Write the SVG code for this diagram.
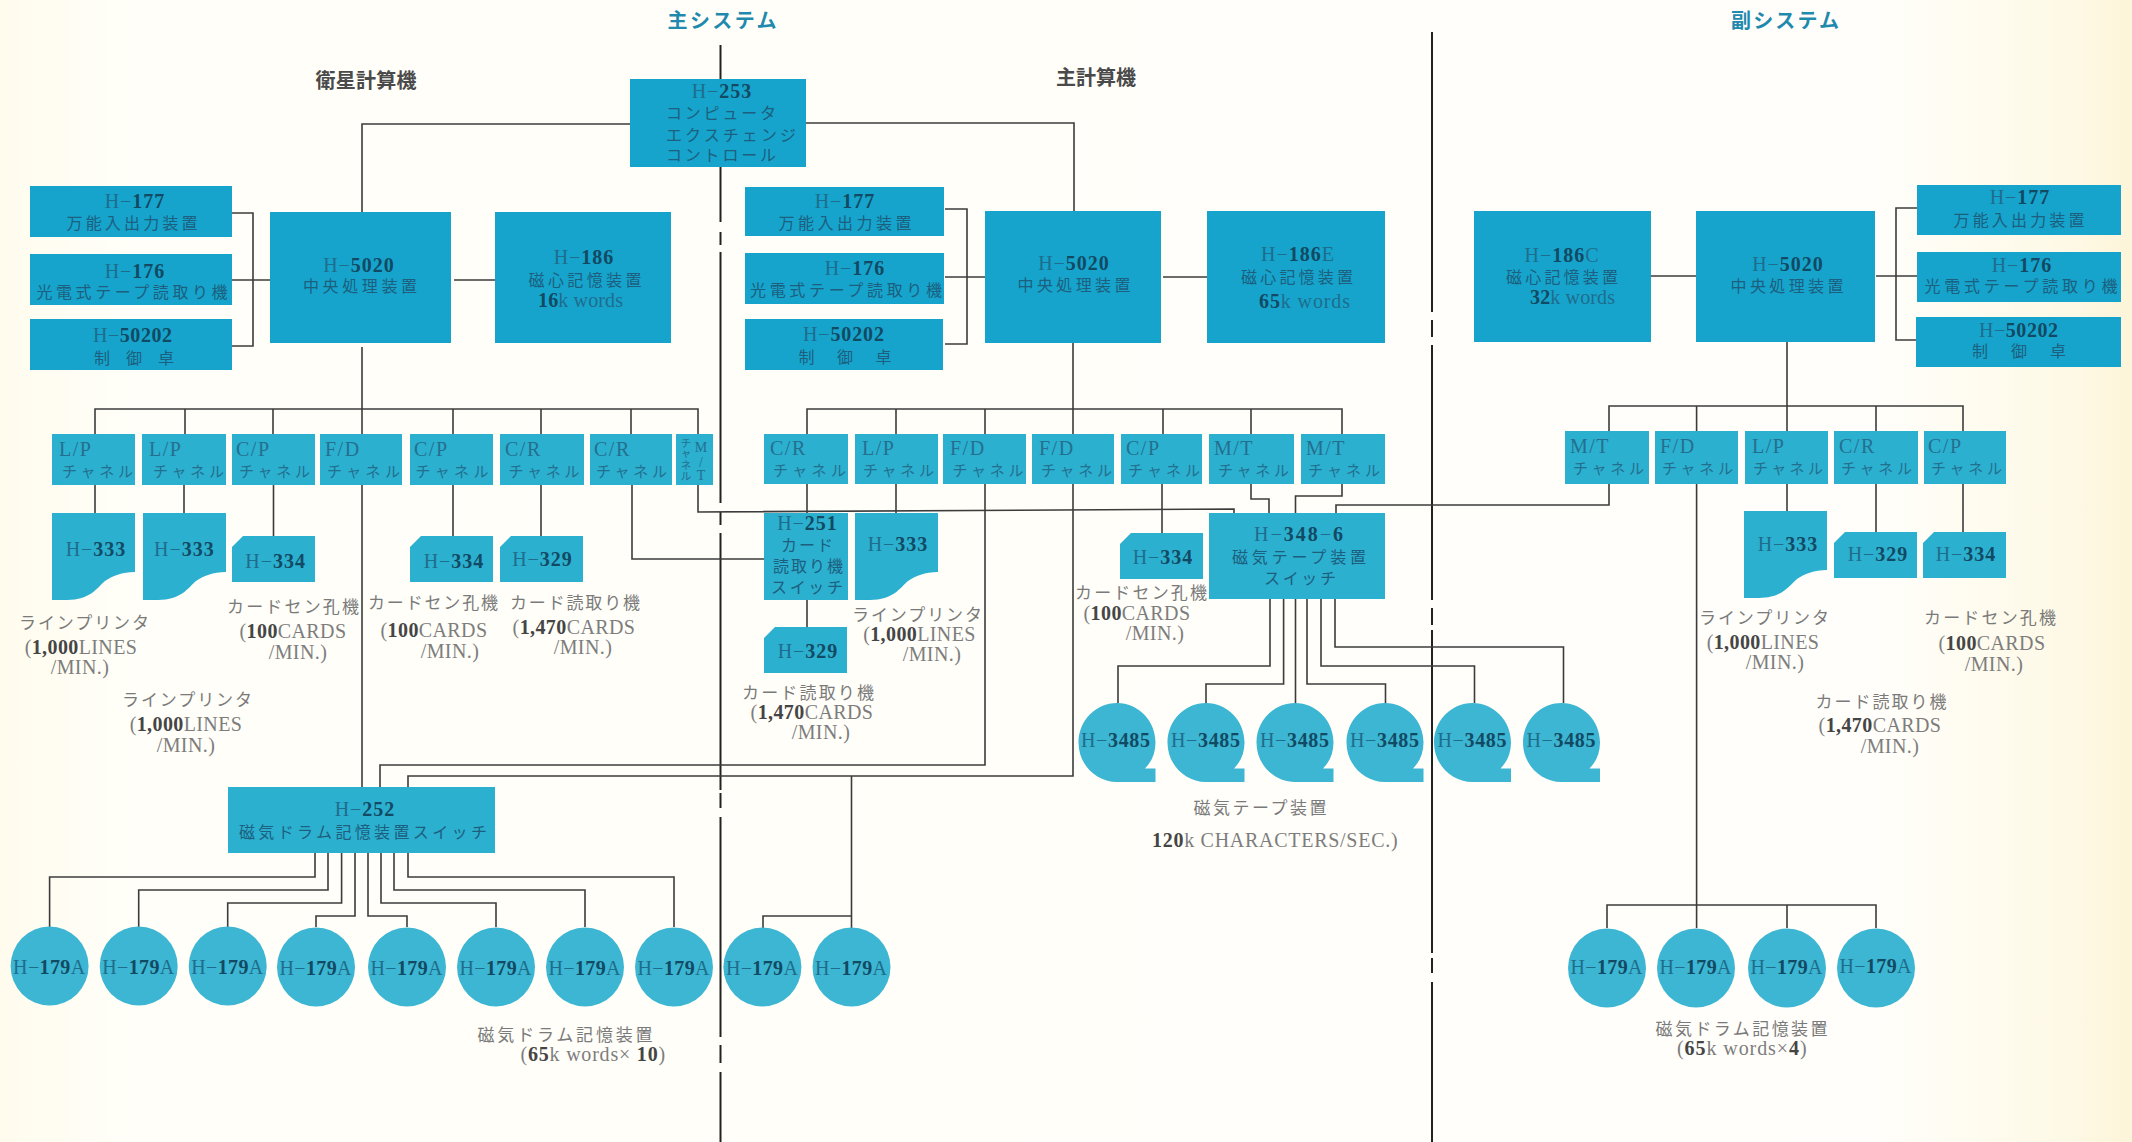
<svg xmlns="http://www.w3.org/2000/svg" width="2132" height="1142" viewBox="0 0 2132 1142">
<style>
text{font-family:"Liberation Serif","Noto Sans CJK JP",serif;text-anchor:middle}
.t{font-size:20px;fill:#1f6d8c;letter-spacing:1px}
.t tspan,.d tspan{font-weight:700;fill:#124a64}
.j{font-size:16px;fill:#1c5f7e}
.ch{font-size:15px;fill:#236f8e}
.lb{font-size:20px;fill:#256f8e;text-anchor:start;letter-spacing:1.500px}
.d{font-size:20px;fill:#7d7d7d;letter-spacing:.4px}
.d tspan{fill:#454545}
.dj{font-size:17px;fill:#7a7a7a}
.h{font-size:20px;font-weight:700;fill:#4a4a4a}
.s{font-size:20px;font-weight:700;fill:#1f89ae}
.a{fill:#16a4cc}
.b{fill:#2cb0d0}
.c{fill:#3cb6d2}
.l{fill:none;stroke:#3c3c3c;stroke-width:1.6}
.v{fill:none;stroke:#222;stroke-width:2}
</style>
<defs>
<linearGradient id="bg" x1="0" x2="1" y1="0" y2="0">
<stop offset="0" stop-color="#fffcee"/><stop offset="0.06" stop-color="#fffef8"/><stop offset="0.88" stop-color="#fffefa"/><stop offset="0.97" stop-color="#fef9e6"/><stop offset="1" stop-color="#fdf5d9"/>
</linearGradient>
<path id="lp" d="M0,0H83V59C70,59 60,63 53,68C45,75 38,87 15,87H0Z"/>
<path id="cd" d="M0,11L11,0H83V46H0Z"/>
<ellipse id="drum" cx="0" cy="0" rx="39" ry="39.5"/>
<path id="reel" d="M0,-39.5C21,-39.5 38.5,-22 38.5,0C38.5,10 35,19 28,26H38.5V39.5H0C-21,39.5 -38.5,22 -38.5,0C-38.5,-22 -21,-39.5 0,-39.5Z"/>
</defs>
<rect width="2132" height="1142" fill="url(#bg)"/>

<g id="connectors">
<path class="v" d="M720.5,45V222M720.5,232V245M720.5,252V503M720.5,512V525M720.5,533V790M720.5,793V808M720.5,817V1037M720.5,1045V1063M720.5,1072V1142"/>
<path class="v" d="M1432,32V312M1432,320V337M1432,345V600M1432,608V625M1432,630V953M1432,958V973M1432,982V1142"/>
<path class="l" d="M630,124H362V212M806,123H1074V211"/>
<path class="l" d="M232,213H253V346H232M232,280H272M454,280H496M362,347V434M95,434V409H698V434M185,409V434M273,409V434M453,409V434M541,409V434M631,409V434"/>
<path class="l" d="M95,485V513M184,485V513M273.500,485V536M453,485V536M541,485V536M632,485V559H764M698,485V512L1234,509V513"/>
<path class="l" d="M945,209H967V344H945M945,277H987M1163,277H1207M1073,343V434M807,434V409H1342V434M896,409V434M985,409V434M1163,409V434M1251,409V434"/>
<path class="l" d="M807,484V513M896,484V513M1162,484V533M1251,484V499H1269V513M1342,484V496H1295.500V513M807,600V627"/>
<path class="l" d="M1270,599V666H1118V703M1283.600,599V684H1206V703M1295.500,599V703M1307,599V684H1385.500V703M1321,599V666H1474.500V703M1335,599V647H1563.500V703"/>
<path class="l" d="M1336,513V505H1609V484"/>
<path class="l" d="M362,485V787M380,787V765H985V484M408,787V776H1073V484M851.500,776V928M763,928V916H851.500"/>
<path class="l" d="M315,853V877H49.600V927M328,853V890H138.700V927M341.600,853V903H227.700V927M355,853V916H316V927M368,853V916H407V927M381,853V903H496V927M394,853V890H585V927M408,853V877H674V927"/>
<path class="l" d="M1651,276H1696M1876,276H1917M1917,208H1896V340H1917M1787,342V431M1609,431V406H1963V431M1696.600,406V431M1876,406V431"/>
<path class="l" d="M1787,484V511M1876,484V533M1963,484V533M1696.600,484V928M1607,928V905H1876V928M1787,905V928"/>
</g>

<g id="title-main"><text class="s" x="722" y="28" textLength="109">主システム</text></g>
<g id="title-sub"><text class="s" x="1785" y="28" textLength="108">副システム</text></g>
<g id="title-sat"><text class="h" x="366" y="88" textLength="101">衛星計算機</text></g>
<g id="title-maincalc"><text class="h" x="1096" y="85" textLength="80">主計算機</text></g>

<g id="h253"><rect class="a" x="630" y="79" width="176" height="88"/>
<text class="t" x="722" y="98">H−<tspan>253</tspan></text>
<text class="j" x="721" y="119" textLength="110">コンピュータ</text>
<text class="j" x="731" y="141" textLength="130">エクスチェンジ</text>
<text class="j" x="721" y="161" textLength="110">コントロール</text></g>

<g id="sat-h177"><rect class="a" x="30" y="186" width="202" height="51"/>
<text class="t" x="135" y="208">H−<tspan>177</tspan></text><text class="j" x="132" y="229" textLength="131">万能入出力装置</text></g>
<g id="sat-h176"><rect class="a" x="30" y="254" width="202" height="51"/>
<text class="t" x="135" y="278">H−<tspan>176</tspan></text><text class="j" x="132" y="298" textLength="191">光電式テープ読取り機</text></g>
<g id="sat-h50202"><rect class="a" x="30" y="319" width="202" height="51"/>
<text class="t" x="133" y="342" textLength="80">H−<tspan>50202</tspan></text><text class="j" x="134" y="364" textLength="80">制 御 卓</text></g>
<g id="sat-h5020"><rect class="a" x="270" y="212" width="181" height="131"/>
<text class="t" x="359" y="272">H−<tspan>5020</tspan></text><text class="j" x="360" y="292" textLength="114">中央処理装置</text></g>
<g id="sat-h186"><rect class="a" x="495" y="212" width="176" height="131"/>
<text class="t" x="584" y="264">H−<tspan>186</tspan></text><text class="j" x="585" y="286" textLength="113">磁心記憶装置</text>
<text class="t" x="581" y="307" textLength="86"><tspan>16</tspan>k words</text></g>

<g id="main-h177"><rect class="a" x="745" y="187" width="199" height="49"/>
<text class="t" x="845" y="208">H−<tspan>177</tspan></text><text class="j" x="845" y="229" textLength="133">万能入出力装置</text></g>
<g id="main-h176"><rect class="a" x="745" y="253" width="199" height="51"/>
<text class="t" x="855" y="275">H−<tspan>176</tspan></text><text class="j" x="846" y="296" textLength="192">光電式テープ読取り機</text></g>
<g id="main-h50202"><rect class="a" x="745" y="319" width="198" height="51"/>
<text class="t" x="844" y="341" textLength="82">H−<tspan>50202</tspan></text><text class="j" x="845" y="363" textLength="93">制 御 卓</text></g>
<g id="main-h5020"><rect class="a" x="985" y="211" width="176" height="132"/>
<text class="t" x="1074" y="270">H−<tspan>5020</tspan></text><text class="j" x="1074" y="291" textLength="113">中央処理装置</text></g>
<g id="main-h186e"><rect class="a" x="1207" y="211" width="178" height="132"/>
<text class="t" x="1298" y="261">H−<tspan>186</tspan>E</text><text class="j" x="1297" y="283" textLength="112">磁心記憶装置</text>
<text class="t" x="1305" y="308" textLength="92"><tspan>65</tspan>k words</text></g>

<g id="sub-h186c"><rect class="a" x="1474" y="211" width="177" height="131"/>
<text class="t" x="1562" y="262">H−<tspan>186</tspan>C</text><text class="j" x="1562" y="283" textLength="112">磁心記憶装置</text>
<text class="t" x="1573" y="304" textLength="86"><tspan>32</tspan>k words</text></g>
<g id="sub-h5020"><rect class="a" x="1696" y="211" width="179" height="131"/>
<text class="t" x="1788" y="271">H−<tspan>5020</tspan></text><text class="j" x="1787" y="292" textLength="113">中央処理装置</text></g>
<g id="sub-h177"><rect class="a" x="1917" y="185" width="204" height="50"/>
<text class="t" x="2020" y="204">H−<tspan>177</tspan></text><text class="j" x="2019" y="226" textLength="131">万能入出力装置</text></g>
<g id="sub-h176"><rect class="a" x="1917" y="252" width="204" height="50"/>
<text class="t" x="2022" y="272">H−<tspan>176</tspan></text><text class="j" x="2021" y="292" textLength="193">光電式テープ読取り機</text></g>
<g id="sub-h50202"><rect class="a" x="1916" y="317" width="205" height="50"/>
<text class="t" x="2019" y="337" textLength="80">H−<tspan>50202</tspan></text><text class="j" x="2019" y="357" textLength="94">制 御 卓</text></g>

<g id="ch-s1"><rect class="b" x="52" y="434" width="83" height="51"/><text class="lb" x="59" y="456">L/P</text><text class="ch" x="97.500" y="477" textLength="71">チャネル</text></g>
<g id="ch-s2"><rect class="b" x="142" y="434" width="84" height="51"/><text class="lb" x="149" y="456">L/P</text><text class="ch" x="188.500" y="477" textLength="71">チャネル</text></g>
<g id="ch-s3"><rect class="b" x="232" y="434" width="83" height="51"/><text class="lb" x="236" y="456">C/P</text><text class="ch" x="274.500" y="477" textLength="71">チャネル</text></g>
<g id="ch-s4"><rect class="b" x="320" y="434" width="82" height="51"/><text class="lb" x="325" y="456">F/D</text><text class="ch" x="363.500" y="477" textLength="73">チャネル</text></g>
<g id="ch-s5"><rect class="b" x="410" y="434" width="83" height="51"/><text class="lb" x="414" y="456">C/P</text><text class="ch" x="452" y="477" textLength="73">チャネル</text></g>
<g id="ch-s6"><rect class="b" x="500" y="434" width="84" height="51"/><text class="lb" x="505" y="456">C/R</text><text class="ch" x="544" y="477" textLength="71">チャネル</text></g>
<g id="ch-s7"><rect class="b" x="590" y="434" width="82" height="51"/><text class="lb" x="594" y="456">C/R</text><text class="ch" x="631.500" y="477" textLength="71">チャネル</text></g>
<g id="ch-s8"><rect class="b" x="676" y="434" width="37" height="51"/>
<text style="font-size:10.500px;fill:#236f8e" x="686"><tspan x="686" y="447">チ</tspan><tspan x="686" y="457">ャ</tspan><tspan x="686" y="469">ネ</tspan><tspan x="686" y="480">ル</tspan></text>
<text style="font-size:14px;fill:#236f8e" x="701"><tspan x="701" y="452">M</tspan><tspan x="701" y="467">/</tspan><tspan x="701" y="480">T</tspan></text></g>

<g id="ch-m1"><rect class="b" x="764" y="434" width="84" height="50"/><text class="lb" x="770" y="455">C/R</text><text class="ch" x="809.500" y="476" textLength="73">チャネル</text></g>
<g id="ch-m2"><rect class="b" x="855" y="434" width="83" height="50"/><text class="lb" x="862" y="455">L/P</text><text class="ch" x="898.500" y="476" textLength="71">チャネル</text></g>
<g id="ch-m3"><rect class="b" x="943" y="434" width="83" height="50"/><text class="lb" x="950" y="455">F/D</text><text class="ch" x="988" y="476" textLength="71">チャネル</text></g>
<g id="ch-m4"><rect class="b" x="1032" y="434" width="82" height="50"/><text class="lb" x="1039" y="455">F/D</text><text class="ch" x="1076.500" y="476" textLength="71">チャネル</text></g>
<g id="ch-m5"><rect class="b" x="1121" y="434" width="81" height="50"/><text class="lb" x="1126" y="455">C/P</text><text class="ch" x="1164" y="476" textLength="72">チャネル</text></g>
<g id="ch-m6"><rect class="b" x="1209" y="434" width="85" height="50"/><text class="lb" x="1214" y="455">M/T</text><text class="ch" x="1253.500" y="476" textLength="71">チャネル</text></g>
<g id="ch-m7"><rect class="b" x="1301" y="434" width="84" height="50"/><text class="lb" x="1306" y="455">M/T</text><text class="ch" x="1344" y="476" textLength="72">チャネル</text></g>

<g id="ch-r1"><rect class="b" x="1565" y="431" width="84" height="53"/><text class="lb" x="1570" y="453">M/T</text><text class="ch" x="1608.500" y="474" textLength="71">チャネル</text></g>
<g id="ch-r2"><rect class="b" x="1655" y="431" width="83" height="53"/><text class="lb" x="1660" y="453">F/D</text><text class="ch" x="1697.500" y="474" textLength="71">チャネル</text></g>
<g id="ch-r3"><rect class="b" x="1745" y="431" width="83" height="53"/><text class="lb" x="1752" y="453">L/P</text><text class="ch" x="1788" y="474" textLength="70">チャネル</text></g>
<g id="ch-r4"><rect class="b" x="1834" y="431" width="84" height="53"/><text class="lb" x="1839" y="453">C/R</text><text class="ch" x="1876.500" y="474" textLength="71">チャネル</text></g>
<g id="ch-r5"><rect class="b" x="1924" y="431" width="82" height="53"/><text class="lb" x="1928" y="453">C/P</text><text class="ch" x="1966.500" y="474" textLength="71">チャネル</text></g>

<g id="lp-s1"><use href="#lp" class="b" x="52" y="513"/><text class="t" x="96" y="556">H−<tspan>333</tspan></text></g>
<g id="lp-s2"><use href="#lp" class="b" x="143" y="513"/><text class="t" x="184.400" y="556">H−<tspan>333</tspan></text></g>
<g id="cp-s1"><use href="#cd" class="b" x="232" y="536"/><text class="t" x="275.600" y="568">H−<tspan>334</tspan></text></g>
<g id="cp-s2"><use href="#cd" class="b" x="410" y="536"/><text class="t" x="454" y="568">H−<tspan>334</tspan></text></g>
<g id="cr-s1"><use href="#cd" class="b" x="500" y="536"/><text class="t" x="542.500" y="566">H−<tspan>329</tspan></text></g>

<g id="h251"><rect class="b" x="764" y="513" width="84" height="87"/>
<text class="t" x="807.500" y="530">H−<tspan>251</tspan></text><text class="j" x="807" y="551" textLength="52">カード</text>
<text class="j" x="808" y="572" textLength="70">読取り機</text><text class="j" x="807" y="593" textLength="72">スイッチ</text></g>
<g id="lp-m1"><use href="#lp" class="b" x="855" y="513"/><text class="t" x="898" y="551">H−<tspan>333</tspan></text></g>
<g id="cr-m1"><use href="#cd" class="b" x="764" y="627"/><text class="t" x="808" y="658">H−<tspan>329</tspan></text></g>
<g id="cp-m1"><use href="#cd" class="b" x="1120" y="533"/><text class="t" x="1163" y="564">H−<tspan>334</tspan></text></g>
<g id="h348"><rect class="b" x="1209" y="513" width="176" height="86"/>
<text class="t" x="1299" y="541" textLength="90">H−<tspan>348</tspan>−<tspan>6</tspan></text><text class="j" x="1299" y="563" textLength="134">磁気テープ装置</text><text class="j" x="1300" y="584" textLength="72">スイッチ</text></g>
<g id="lp-r1"><use href="#lp" class="b" x="1744" y="511"/><text class="t" x="1788" y="551">H−<tspan>333</tspan></text></g>
<g id="cr-r1"><use href="#cd" class="b" x="1834" y="532"/><text class="t" x="1878" y="561">H−<tspan>329</tspan></text></g>
<g id="cp-r1"><use href="#cd" class="b" x="1923" y="532"/><text class="t" x="1966" y="561">H−<tspan>334</tspan></text></g>

<g id="reel1"><use href="#reel" class="c" x="1117" y="742.500"/><text class="t" x="1116" y="746.500" textLength="70">H−<tspan>3485</tspan></text></g>
<g id="reel2"><use href="#reel" class="c" x="1206" y="742.500"/><text class="t" x="1206" y="746.500" textLength="70">H−<tspan>3485</tspan></text></g>
<g id="reel3"><use href="#reel" class="c" x="1295" y="742.500"/><text class="t" x="1295" y="746.500" textLength="70">H−<tspan>3485</tspan></text></g>
<g id="reel4"><use href="#reel" class="c" x="1385" y="742.500"/><text class="t" x="1385" y="746.500" textLength="70">H−<tspan>3485</tspan></text></g>
<g id="reel5"><use href="#reel" class="c" x="1472.500" y="742.500"/><text class="t" x="1472.500" y="746.500" textLength="70">H−<tspan>3485</tspan></text></g>
<g id="reel6"><use href="#reel" class="c" x="1561.500" y="742.500"/><text class="t" x="1561.500" y="746.500" textLength="70">H−<tspan>3485</tspan></text></g>

<g id="h252"><rect class="b" x="228" y="787" width="267" height="66"/>
<text class="t" x="365" y="816">H−<tspan>252</tspan></text><text class="j" x="363" y="838" textLength="248">磁気ドラム記憶装置スイッチ</text></g>

<g id="drum1"><use href="#drum" class="c" x="49.600" y="966"/><text class="t" x="49.600" y="974" textLength="73">H−<tspan>179</tspan>A</text></g>
<g id="drum2"><use href="#drum" class="c" x="138.700" y="966"/><text class="t" x="138.700" y="974" textLength="73">H−<tspan>179</tspan>A</text></g>
<g id="drum3"><use href="#drum" class="c" x="227.700" y="966"/><text class="t" x="227.700" y="974" textLength="73">H−<tspan>179</tspan>A</text></g>
<g id="drum4"><use href="#drum" class="c" x="316" y="967"/><text class="t" x="316" y="975" textLength="73">H−<tspan>179</tspan>A</text></g>
<g id="drum5"><use href="#drum" class="c" x="407" y="967"/><text class="t" x="407" y="975" textLength="73">H−<tspan>179</tspan>A</text></g>
<g id="drum6"><use href="#drum" class="c" x="496" y="967"/><text class="t" x="496" y="975" textLength="73">H−<tspan>179</tspan>A</text></g>
<g id="drum7"><use href="#drum" class="c" x="585" y="967"/><text class="t" x="585" y="975" textLength="73">H−<tspan>179</tspan>A</text></g>
<g id="drum8"><use href="#drum" class="c" x="674" y="967"/><text class="t" x="674" y="975" textLength="73">H−<tspan>179</tspan>A</text></g>
<g id="drum9"><use href="#drum" class="c" x="762.400" y="967"/><text class="t" x="762.400" y="975" textLength="73">H−<tspan>179</tspan>A</text></g>
<g id="drum10"><use href="#drum" class="c" x="851.500" y="967"/><text class="t" x="851.500" y="975" textLength="73">H−<tspan>179</tspan>A</text></g>
<g id="drum11"><use href="#drum" class="c" x="1607" y="968"/><text class="t" x="1607" y="974" textLength="73">H−<tspan>179</tspan>A</text></g>
<g id="drum12"><use href="#drum" class="c" x="1696" y="968"/><text class="t" x="1696" y="974" textLength="73">H−<tspan>179</tspan>A</text></g>
<g id="drum13"><use href="#drum" class="c" x="1787" y="968"/><text class="t" x="1787" y="974" textLength="73">H−<tspan>179</tspan>A</text></g>
<g id="drum14"><use href="#drum" class="c" x="1876" y="968"/><text class="t" x="1876" y="973" textLength="73">H−<tspan>179</tspan>A</text></g>

<g id="labels">
<text class="dj" x="84" y="629" textLength="130">ラインプリンタ</text><text class="d" x="81" y="654">(<tspan>1,000</tspan>LINES</text><text class="d" x="80" y="674">/MIN.)</text>
<text class="dj" x="187" y="706" textLength="130">ラインプリンタ</text><text class="d" x="186" y="731">(<tspan>1,000</tspan>LINES</text><text class="d" x="186" y="752">/MIN.)</text>
<text class="dj" x="293" y="613" textLength="132">カードセン孔機</text><text class="d" x="293" y="638">(<tspan>100</tspan>CARDS</text><text class="d" x="298" y="659">/MIN.)</text>
<text class="dj" x="433" y="609" textLength="130">カードセン孔機</text><text class="d" x="434" y="637">(<tspan>100</tspan>CARDS</text><text class="d" x="450" y="658">/MIN.)</text>
<text class="dj" x="575" y="609" textLength="130">カード読取り機</text><text class="d" x="574" y="634">(<tspan>1,470</tspan>CARDS</text><text class="d" x="583" y="654">/MIN.)</text>
<text class="dj" x="808" y="699" textLength="132">カード読取り機</text><text class="d" x="812" y="719">(<tspan>1,470</tspan>CARDS</text><text class="d" x="821" y="739">/MIN.)</text>
<text class="dj" x="917" y="621" textLength="130">ラインプリンタ</text><text class="d" x="919.500" y="641">(<tspan>1,000</tspan>LINES</text><text class="d" x="932" y="661">/MIN.)</text>
<text class="dj" x="1141" y="599" textLength="132">カードセン孔機</text><text class="d" x="1137" y="620">(<tspan>100</tspan>CARDS</text><text class="d" x="1155" y="640">/MIN.)</text>
<text class="dj" x="1764" y="624" textLength="130">ラインプリンタ</text><text class="d" x="1763" y="649">(<tspan>1,000</tspan>LINES</text><text class="d" x="1775" y="669">/MIN.)</text>
<text class="dj" x="1990" y="624" textLength="132">カードセン孔機</text><text class="d" x="1992" y="650">(<tspan>100</tspan>CARDS</text><text class="d" x="1994" y="671">/MIN.)</text>
<text class="dj" x="1881" y="708" textLength="131">カード読取り機</text><text class="d" x="1880" y="732">(<tspan>1,470</tspan>CARDS</text><text class="d" x="1890" y="753">/MIN.)</text>
<text class="dj" x="565" y="1041" textLength="175">磁気ドラム記憶装置</text><text class="d" x="593" y="1061" textLength="145">(<tspan>65</tspan>k words× <tspan>10</tspan>)</text>
<text class="dj" x="1741.500" y="1035" textLength="172">磁気ドラム記憶装置</text><text class="d" x="1742" y="1055" textLength="130">(<tspan>65</tspan>k words×<tspan>4</tspan>)</text>
<text class="dj" x="1260" y="814" textLength="133">磁気テープ装置</text><text class="d" x="1275" y="847" textLength="246"><tspan>120</tspan>k CHARACTERS/SEC.)</text>
</g>
</svg>
